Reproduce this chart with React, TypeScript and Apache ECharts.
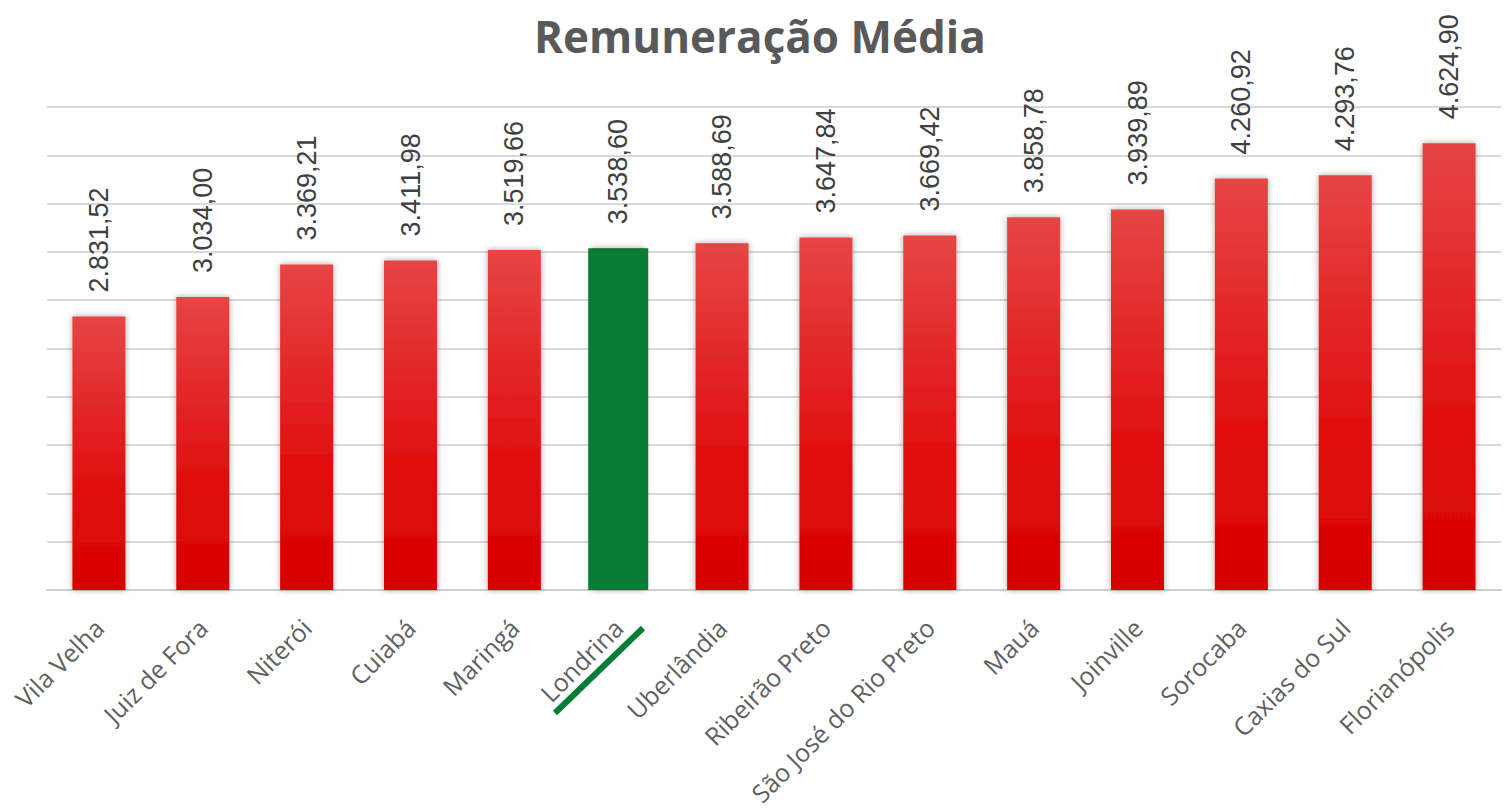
import React, { useEffect, useRef } from "react";
import * as echarts from "echarts";

const titleText = "Remuneração Média";
const cities = [
  "Vila Velha",
  "Juiz de Fora",
  "Niterói",
  "Cuiabá",
  "Maringá",
  "Londrina",
  "Uberlândia",
  "Ribeirão Preto",
  "São José do Rio Preto",
  "Mauá",
  "Joinville",
  "Sorocaba",
  "Caxias do Sul",
  "Florianópolis",
];
const salaries = [
  2831.52, 3034.0, 3369.21, 3411.98, 3519.66, 3538.6, 3588.69, 3647.84,
  3669.42, 3858.78, 3939.89, 4260.92, 4293.76, 4624.9,
];
const highlightCity = "Londrina";

function fmtBR(v: number): string {
  const [intPart, dec] = v.toFixed(2).split(".");
  const withDots = intPart.replace(/\B(?=(\d{3})+(?!\d))/g, ".");
  return withDots + "," + dec;
}

export default function App() {
  const ref = useRef<HTMLDivElement>(null);
  useEffect(() => {
    if (!ref.current) return;
    const chart = echarts.init(ref.current, null, { renderer: "svg" });
    const hi = cities.indexOf(highlightCity);
    const greenData = salaries.map((v, i) => (i === hi ? v : "-"));
    const labelStyle = {
      show: true,
      position: "top",
      rotate: 90,
      align: "left",
      verticalAlign: "middle",
      distance: 24,
      fontSize: 27,
      fontFamily: "Liberation Sans, Arial, sans-serif",
      color: "#404040",
      formatter: (p: any) => fmtBR(p.value),
    };
    chart.setOption({
      animation: false,
      backgroundColor: "#ffffff",
      title: {
        text: titleText,
        left: 529,
        top: 9,
        textStyle: {
          fontFamily: "Open Sans",
          fontWeight: "bold",
          fontSize: 44,
          color: "#595959",
        },
      },
      grid: { left: 47, right: 4, top: 107, bottom: 219 },
      xAxis: [
        {
          type: "category",
          data: cities,
          axisLine: { lineStyle: { color: "#d0d0d0", width: 2 } },
          axisTick: { show: false },
          axisLabel: {
            interval: 0,
            rotate: 45,
            margin: 33,
            fontSize: 25,
            fontFamily: "Open Sans",
            color: "#5f5f5f",
          },
        },
        {
          type: "category",
          data: cities,
          show: false,
        },
      ],
      yAxis: {
        type: "value",
        min: 0,
        max: 5000,
        interval: 500,
        axisLabel: { show: false },
        axisLine: { show: false },
        axisTick: { show: false },
        splitLine: { lineStyle: { color: "#d9d9d9", width: 2 } },
      },
      graphic: [
        {
          type: "line",
          shape: { x1: 555, y1: 713, x2: 643, y2: 628 },
          style: { stroke: "#087c35", lineWidth: 6 },
          z: 100,
        },
      ],
      series: [
        {
          type: "bar",
          xAxisIndex: 0,
          data: salaries,
          barWidth: 53,
          itemStyle: {
            color: new echarts.graphic.LinearGradient(0, 0, 0, 1, [
              { offset: 0, color: "#e64545" },
              { offset: 0.6, color: "#e01010" },
              { offset: 1, color: "#d80000" },
            ]),
            shadowColor: "rgba(0,0,0,0.35)",
            shadowBlur: 6,
          },
          label: labelStyle,
        },
        {
          type: "bar",
          xAxisIndex: 1,
          data: greenData,
          barWidth: 60,
          z: 3,
          itemStyle: { color: "#087c35" },
        },
      ],
    });
    return () => chart.dispose();
  }, []);
  return (
    <div
      ref={ref}
      style={{ position: "fixed", left: 0, top: 0, width: 1505, height: 809 }}
    />
  );
}
